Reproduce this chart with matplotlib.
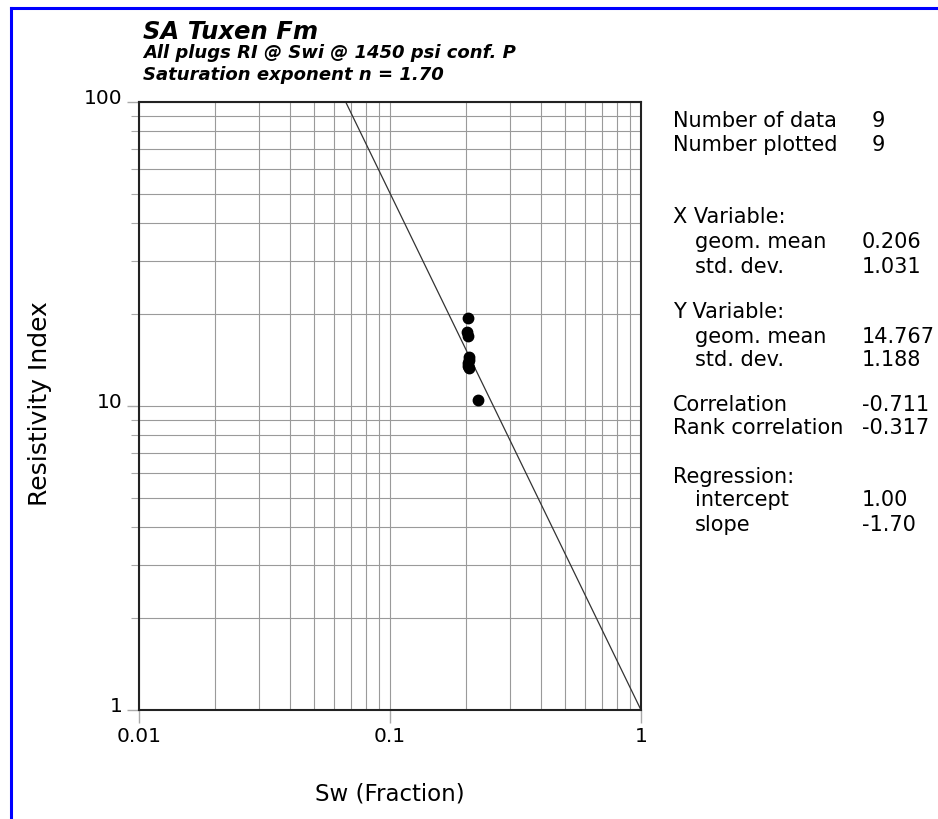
import matplotlib
matplotlib.use("Agg")
import matplotlib.pyplot as plt
import matplotlib.transforms as mtransforms
from matplotlib.lines import Line2D
import numpy as np

# plug data
sw = [0.205, 0.203, 0.204, 0.207, 0.206, 0.205, 0.204, 0.206, 0.225]
ri = [19.5, 17.5, 17.0, 14.5, 14.2, 13.8, 13.5, 13.3, 10.5]

# regression RI = a * Sw^b
intercept = 1.00
slope = -1.70

xticks = [0.01, 0.1, 1]
xticklabels = ["0.01", "0.1", "1"]
yticks = [1, 10, 100]
yticklabels = ["1", "10", "100"]

title = "SA Tuxen Fm"
subtitles = ["All plugs RI @ Swi @ 1450 psi conf. P", "Saturation exponent n = 1.70"]

stat_labels = ["Number of data", "Number plotted", "X Variable:", "geom. mean", "std. dev.",
               "Y Variable:", "geom. mean", "std. dev.", "Correlation", "Rank correlation",
               "Regression:", "intercept", "slope"]
stat_values = ["9", "9", "", "0.206", "1.031", "", "14.767", "1.188", "-0.711", "-0.317",
               "", "1.00", "-1.70"]
stat_indent = [0, 0, 0, 1, 1, 0, 1, 1, 0, 0, 0, 1, 1]
stat_rows = [121, 145, 217, 242, 267, 312, 337, 360, 405, 428, 477, 500, 525]

W, H = 938, 819
fig = plt.figure(figsize=(W / 100, H / 100), dpi=100)
plt.rcParams['font.family'] = ['DejaVu Sans']

def fx(px):
    return px / W

def fy(py):
    return 1 - py / H

ax = fig.add_axes([fx(139), fy(710), fx(641) - fx(139), fy(102) - fy(710)])
ax.set_xscale('log')
ax.set_yscale('log')
ax.set_xlim(0.01, 1)
ax.set_ylim(1, 100)

ax.grid(True, which='both', color='#9a9a9a', lw=0.8)
ax.set_axisbelow(True)

xs = np.logspace(-2, 0, 200)
ax.plot(xs, intercept * xs ** slope, color='#333333', lw=0.9)
ax.plot(sw, ri, 'o', color='black', ms=7.5, mec='black')

ax.set_xticks(xticks)
ax.set_xticklabels(xticklabels)
ax.set_yticks(yticks)
ax.set_yticklabels(yticklabels)
ax.tick_params(axis='both', which='major', length=9, width=1, color='#aaaaaa',
               labelsize=14.5, pad=3)
ax.tick_params(axis='y', which='minor', length=6, width=0.8, color='#aaaaaa')
ax.tick_params(axis='x', which='minor', length=0)
ax.yaxis.set_minor_formatter(plt.NullFormatter())
ax.xaxis.set_minor_formatter(plt.NullFormatter())
shift = mtransforms.ScaledTranslation(0, 5 / 100, fig.dpi_scale_trans)
for lab in ax.get_yticklabels():
    lab.set_transform(lab.get_transform() + shift)
for s in ax.spines.values():
    s.set_linewidth(1.5)
    s.set_color('#222222')

fig.text(fx(390), fy(794), "Sw (Fraction)", fontsize=16.5, ha='center', va='center')
fig.text(fx(40), fy(404), "Resistivity Index", fontsize=18, rotation=90,
         ha='center', va='center')

fig.text(fx(143), fy(39), title, fontsize=17.5, fontweight='bold', fontstyle='italic',
         va='baseline')
fig.text(fx(143), fy(58), subtitles[0], fontsize=13, fontweight='bold',
         fontstyle='italic', va='baseline')
fig.text(fx(143), fy(80), subtitles[1], fontsize=13, fontweight='bold',
         fontstyle='italic', va='baseline')

for lab, val, ind, row in zip(stat_labels, stat_values, stat_indent, stat_rows):
    fig.text(fx(673 + 22 * ind), fy(row), lab, fontsize=15, va='center')
    if val:
        vx = 872 if val == "9" else 862
        fig.text(fx(vx), fy(row), val, fontsize=15, va='center')

# blue frame
fig.add_artist(Line2D([fx(10.5), 1.0], [fy(7.5), fy(7.5)], color='#0000ff', lw=2.2,
                      transform=fig.transFigure))
fig.add_artist(Line2D([fx(10.5), fx(10.5)], [fy(7.5), 0.0], color='#0000ff', lw=2.2,
                      transform=fig.transFigure))

fig.savefig("out.png", dpi=100)
